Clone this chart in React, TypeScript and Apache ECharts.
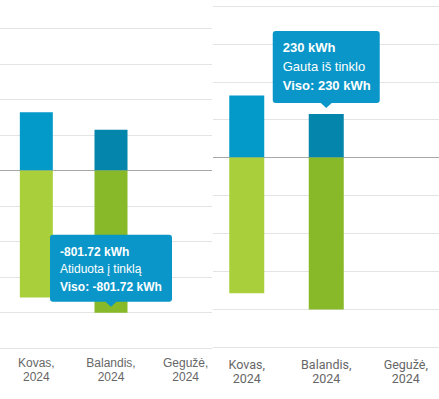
import React, { useEffect, useRef } from "react";
import * as echarts from "echarts";

// ---- data ----
const categories = ["Kovas,\n2024", "Balandis,\n2024", "Gegužė,\n2024"];
const receivedName = "Gauta iš tinklo";
const givenName = "Atiduota į tinklą";
const receivedValues: (number | null)[] = [328, 230, null];
const givenValues: (number | null)[] = [-716, -801.72, null];
const receivedColors = ["#0399c9", "#0385ac", "#0399c9"];
const givenColors = ["#a9d03a", "#87b928", "#a9d03a"];
const yTickStep = 200;

type Panel = {
  clipLeft: number;
  clipWidth: number;
  chartX: number;
  chartY: number;
  chartW: number;
  chartH: number;
  grid: { left: number; width: number; top: number; height: number };
  yMin: number;
  yMax: number;
  barWidth: number;
  labelFont: string;
  labelSize: number;
  labelMargin: number;
  tip: { seriesIndex: number; dataIndex: number; w: number; h: number; fontSize: number; gap: number };
};

const panels: Panel[] = [
  {
    clipLeft: 0,
    clipWidth: 212,
    chartX: -20,
    chartY: -20,
    chartW: 260,
    chartH: 420,
    grid: { left: 19, width: 224, top: 13, height: 355 },
    yMin: -1000,
    yMax: 1000,
    barWidth: 33,
    labelFont: "'Liberation Sans', Arial, sans-serif",
    labelSize: 12,
    labelMargin: 8,
    tip: { seriesIndex: 1, dataIndex: 1, w: 122, h: 67, fontSize: 12, gap: 17.5 },
  },
  {
    clipLeft: 213,
    clipWidth: 226,
    chartX: -20,
    chartY: -20,
    chartW: 280,
    chartH: 420,
    grid: { left: 14, width: 238.5, top: 26, height: 341 },
    yMin: -1000,
    yMax: 800,
    barWidth: 35,
    labelFont: "Roboto, sans-serif",
    labelSize: 12.5,
    labelMargin: 10,
    tip: { seriesIndex: 0, dataIndex: 1, w: 107, h: 72, fontSize: 13, gap: 19 },
  },
];

function ChartPanel({ p }: { p: Panel }) {
  const ref = useRef<HTMLDivElement>(null);
  useEffect(() => {
    if (!ref.current) return;
    const chart = echarts.init(ref.current, undefined, { renderer: "svg" });
    const seriesDefs = [
      { name: receivedName, values: receivedValues, colors: receivedColors },
      { name: givenName, values: givenValues, colors: givenColors },
    ];
    const splitColors: string[] = [];
    for (let v = p.yMin; v <= p.yMax; v += yTickStep) splitColors.push(v === 0 ? "#a8a8a8" : "#e4e4e4");
    chart.setOption({
      animation: false,
      grid: { ...p.grid, containLabel: false },
      xAxis: {
        type: "category",
        data: categories,
        axisLine: { show: false },
        axisTick: { show: false },
        axisLabel: {
          color: "#666",
          fontFamily: p.labelFont,
          fontSize: p.labelSize,
          lineHeight: 14,
          margin: p.labelMargin,
          interval: 0,
        },
      },
      yAxis: {
        type: "value",
        min: p.yMin,
        max: p.yMax,
        interval: yTickStep,
        axisLabel: { show: false },
        axisLine: { show: false },
        axisTick: { show: false },
        splitLine: { lineStyle: { color: splitColors, width: 1 } },
      },
      series: seriesDefs.map((s) => ({
        type: "bar",
        name: s.name,
        stack: "total",
        barWidth: p.barWidth,
        data: s.values.map((v, i) => ({ value: v, itemStyle: { color: s.colors[i] } })),
      })),
    });

    // tooltip drawn as graphic, anchored via axis conversion
    const t = p.tip;
    const s = seriesDefs[t.seriesIndex];
    const v = s.values[t.dataIndex] as number;
    const pt = chart.convertToPixel({ xAxisIndex: 0, yAxisIndex: 0 }, [t.dataIndex, v]) as number[];
    const cx = pt[0];
    const tipY = pt[1] - 6;
    const boxBottom = tipY - 5;
    const boxTop = boxBottom - t.h;
    const boxLeft = cx - t.w / 2;
    const bg = "#0a96c8";
    const lines = [
      { text: `${v} kWh`, weight: "bold" },
      { text: s.name, weight: "normal" },
      { text: `Viso: ${v} kWh`, weight: "bold" },
    ];
    chart.setOption({
      graphic: [
        {
          type: "rect",
          z: 100,
          zlevel: 0,
          shape: { x: boxLeft, y: boxTop, width: t.w, height: t.h, r: 3 },
          style: { fill: bg },
        },
        {
          type: "polygon",
          z: 100,
          shape: { points: [[cx - 6, boxBottom - 0.5], [cx + 6, boxBottom - 0.5], [cx, tipY]] },
          style: { fill: bg },
        },
        ...lines.map((l, i) => ({
          type: "text",
          z: 101,
          x: boxLeft + 10,
          y: boxTop + 17 + i * t.gap,
          style: {
            text: l.text,
            fill: "#ffffff",
            font: `${l.weight} ${t.fontSize}px 'Liberation Sans', Arial, sans-serif`,
            verticalAlign: "middle",
            align: "left",
          },
        })),
      ],
    });
    return () => chart.dispose();
  }, [p]);
  return (
    <div
      style={{
        position: "absolute",
        left: p.clipLeft,
        top: 0,
        width: p.clipWidth,
        height: 399,
        overflow: "hidden",
        background: "#fff",
      }}
    >
      <div
        ref={ref}
        style={{ position: "absolute", left: p.chartX, top: p.chartY, width: p.chartW, height: p.chartH }}
      />
    </div>
  );
}

export default function App() {
  return (
    <div style={{ position: "fixed", left: 0, top: 0, width: 439, height: 399, background: "#fff", overflow: "hidden" }}>
      {panels.map((p, i) => (
        <ChartPanel key={i} p={p} />
      ))}
    </div>
  );
}
